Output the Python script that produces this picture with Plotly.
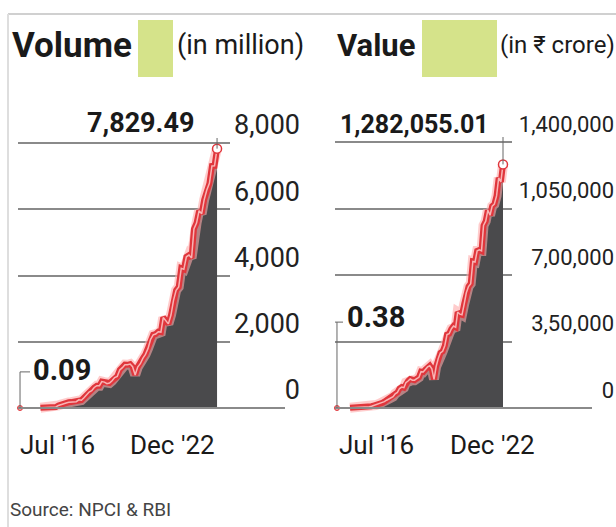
import plotly.graph_objects as go
import pandas as pd

# monthly UPI figures, Jul 2016 - Dec 2022
months = pd.date_range('2016-07-01', '2022-12-01', freq='MS').strftime('%Y-%m-%d').tolist()

volume_mn = [
    0.09, 0.09, 0.09, 0.10, 0.29, 1.99,
    4.15, 4.25, 6.37, 7.20, 9.36, 10.35, 11.63, 16.80, 30.98, 76.96, 104.82, 145.64,
    151.83, 171.40, 178.05, 190.08, 189.48, 246.37, 235.84, 312.02, 405.87, 482.36, 524.94, 620.17,
    672.75, 674.19, 799.54, 781.79, 733.54, 754.54, 822.23, 918.35, 955.02, 1148.50, 1218.90, 1308.40,
    1305.00, 1325.70, 1246.80, 999.60, 1234.50, 1336.90, 1497.40, 1618.80, 1800.00, 2070.00, 2210.00, 2234.20,
    2302.90, 2292.90, 2731.70, 2641.10, 2539.60, 2807.50, 3247.80, 3555.50, 3654.30, 4218.70, 4186.60, 4566.30,
    4617.20, 4527.50, 5405.70, 5583.10, 5955.20, 5862.80, 6288.40, 6579.60, 6780.80, 7305.40, 7309.90, 7829.49,
]

value_cr = [
    0.38, 3.09, 32.64, 48.57, 90.0, 707.9,
    1696.2, 1937.7, 2425.1, 2271.2, 2797.0, 3098.4, 3411.5, 4156.6, 5325.8, 7057.8, 9669.3, 13144.3,
    15571.2, 19082.0, 24172.6, 27022.0, 33288.0, 40834.0, 46160.0, 54208.0, 59835.0, 74978.0, 82232.0, 102595.0,
    109932.0, 106737.0, 133461.0, 142034.0, 152449.0, 146387.0, 146386.0, 154508.0, 161456.0, 191359.0, 189229.0, 202520.0,
    216242.0, 222517.0, 206462.0, 151141.0, 218392.0, 261835.0, 290538.0, 298308.0, 329027.0, 386106.0, 390999.0, 416176.0,
    431181.0, 425062.0, 504886.0, 493663.0, 490638.0, 547373.0, 606281.0, 639116.0, 654351.0, 771444.0, 768436.0, 826848.0,
    831993.0, 826843.0, 960581.0, 983302.0, 1040923.0, 1014384.0, 1062747.0, 1072792.0, 1116438.0, 1211582.0, 1190593.0, 1282055.01,
]

vol_ticks = [0, 2000, 4000, 6000, 8000]
vol_ticktext = ['0', '2,000', '4,000', '6,000', '8,000']
val_ticks = [0, 350000, 700000, 1050000, 1400000]
val_ticktext = ['0', '3,50,000', '7,00,000', '1,050,000', '1,400,000']

W, H = 616, 527
NARROW = 'Roboto, Liberation Sans, sans-serif'
RED = '#e0363c'
FILL = '#4a4a4c'
GRID = '#8a8a8a'
SWATCH = '#d5e38a'


def px(x):
    return x / W


def py(y):
    return 1 - y / H


fig = go.Figure()


def add_series(xa, ya, y, thick_from):
    # grey area under the curve
    fig.add_trace(go.Scatter(x=months, y=y, mode='lines', line=dict(width=0, color=FILL),
                             fill='tozeroy', fillcolor=FILL, xaxis=xa, yaxis=ya, hoverinfo='skip'))
    # thin start segment
    fig.add_trace(go.Scatter(x=months[:thick_from + 1], y=y[:thick_from + 1], mode='lines',
                             line=dict(width=1.2, color=RED), xaxis=xa, yaxis=ya))
    # glowing red line
    xs, ys = months[thick_from:], y[thick_from:]
    fig.add_trace(go.Scatter(x=xs, y=ys, mode='lines', line=dict(width=10, color='rgba(255,170,170,0.6)'),
                             xaxis=xa, yaxis=ya))
    fig.add_trace(go.Scatter(x=xs, y=ys, mode='lines', line=dict(width=6, color=RED),
                             xaxis=xa, yaxis=ya))
    fig.add_trace(go.Scatter(x=xs, y=ys, mode='lines', line=dict(width=1.5, color='#f8b4b4'),
                             xaxis=xa, yaxis=ya))
    # end markers
    fig.add_trace(go.Scatter(x=[months[0]], y=[y[0]], mode='markers',
                             marker=dict(size=5, color='#f4a0a0', line=dict(width=1, color=RED)),
                             xaxis=xa, yaxis=ya, cliponaxis=False))
    fig.add_trace(go.Scatter(x=[months[-1]], y=[y[-1]], mode='markers',
                             marker=dict(size=9, color='white', line=dict(width=1.5, color=RED)),
                             xaxis=xa, yaxis=ya, cliponaxis=False))


add_series('x', 'y', volume_mn, 8)
add_series('x2', 'y2', value_cr, 6)

axis_off = dict(showgrid=False, showticklabels=False, zeroline=False, showline=False, ticks='',
                automargin=False)
tick_font = dict(family=NARROW, color='#222')

fig.update_layout(
    width=W, height=H, autosize=False,
    margin=dict(l=0, r=0, t=0, b=0, pad=0),
    paper_bgcolor='white', plot_bgcolor='rgba(0,0,0,0)',
    showlegend=False,
    xaxis=dict(domain=[px(18), px(230)], range=['2016-06-07', '2023-05-04'], type='date', **axis_off),
    xaxis2=dict(domain=[px(335), px(512)], range=['2016-06-03', '2023-04-07'], type='date', **axis_off),
    yaxis=dict(domain=[py(420), py(138)], range=[-362, 8151], anchor='free', position=px(300), side='left',
               tickvals=vol_ticks, ticktext=vol_ticktext, ticks='', ticklabelshift=-18, automargin=False,
               showgrid=True, gridcolor=GRID, gridwidth=2, zeroline=False, showline=False,
               tickfont=dict(size=27, **tick_font)),
    yaxis2=dict(domain=[py(420), py(137)], range=[-63158, 1426316], anchor='free', position=px(614), side='left',
                tickvals=val_ticks, ticktext=val_ticktext, ticks='', ticklabelshift=-18, automargin=False,
                showgrid=True, gridcolor=GRID, gridwidth=2, zeroline=False, showline=False,
                tickfont=dict(size=22, **tick_font)),
)

shapes = [
    # frame
    dict(type='line', xref='paper', yref='paper', x0=px(8), x1=1, y0=py(14), y1=py(14),
         line=dict(color='#d0d0d0', width=2)),
    dict(type='line', xref='paper', yref='paper', x0=px(8), x1=px(8), y0=py(14), y1=0,
         line=dict(color='#dedede', width=2)),
    # colour swatches
    dict(type='rect', xref='paper', yref='paper', x0=px(138), x1=px(173), y0=py(77), y1=py(20),
         fillcolor=SWATCH, line=dict(width=0)),
    dict(type='rect', xref='paper', yref='paper', x0=px(422), x1=px(497), y0=py(77), y1=py(20),
         fillcolor=SWATCH, line=dict(width=0)),
    # baselines
    dict(type='line', xref='paper', yref='y', x0=px(18), x1=px(285), y0=0, y1=0,
         line=dict(color=GRID, width=2)),
    dict(type='line', xref='paper', yref='y2', x0=px(335), x1=px(592), y0=0, y1=0,
         line=dict(color=GRID, width=2)),
    # leader lines
    dict(type='line', xref='x', yref='y', x0=months[-1], x1=months[-1], y0=volume_mn[-1], y1=8390,
         line=dict(color='#666', width=1)),
    dict(type='line', xref='paper', yref='y', x0=px(197), x1=px(217), y0=8390, y1=8390,
         line=dict(color='#666', width=1)),
    dict(type='line', xref='x', yref='y', x0=months[0], x1=months[0], y0=0, y1=1090,
         line=dict(color='#666', width=1)),
    dict(type='line', xref='paper', yref='y', x0=px(20), x1=px(30), y0=1090, y1=1090,
         line=dict(color='#666', width=1)),
    dict(type='line', xref='x2', yref='y2', x0=months[-1], x1=months[-1], y0=value_cr[-1], y1=1437000,
         line=dict(color='#666', width=1)),
    dict(type='line', xref='paper', yref='y2', x0=px(490), x1=px(503), y0=1437000, y1=1437000,
         line=dict(color='#666', width=1)),
    dict(type='line', xref='x2', yref='y2', x0=months[0], x1=months[0], y0=0, y1=452000,
         line=dict(color='#666', width=1)),
    dict(type='line', xref='paper', yref='y2', x0=px(335), x1=px(343), y0=452000, y1=452000,
         line=dict(color='#666', width=1)),
]
fig.update_layout(shapes=shapes)


def note(text, x, y, size, anchor='left', bold=False, color='#1a1a1a', xref='paper', xshift=0):
    fig.add_annotation(text=f'<b>{text}</b>' if bold else text, x=x, y=y, xref=xref, yref='paper',
                       xanchor=anchor, yanchor='middle', showarrow=False, xshift=xshift,
                       font=dict(family=NARROW, size=size, color=color))


# headers
note('Volume', px(10), py(45), 35, bold=True)
note('(in million)', px(175), py(45), 27)
note('Value', px(335), py(45), 31, bold=True)
note('(in ₹ crore)', px(498), py(45), 24)

# value call-outs
note('7,829.49', px(196), py(123), 27, anchor='right', bold=True)
note('0.09', px(31), py(370), 29, bold=True)
note('1,282,055.01', px(491), py(124), 25, anchor='right', bold=True)
note('0.38', px(345), py(317), 29, bold=True)

# x labels
note("Jul '16", months[0], py(445), 26, xref='x', xshift=-2)
note("Dec '22", months[-1], py(445), 26, anchor='right', xref='x')
note("Jul '16", months[0], py(445), 26, xref='x2')
note("Dec '22", months[-1], py(445), 26, anchor='center', xref='x2', xshift=-10)

note('Source: NPCI & RBI', px(8), py(509), 19, color='#444')

fig.write_html("out.html", config={'displayModeBar': False},
               post_script="document.body.style.margin='0';")
